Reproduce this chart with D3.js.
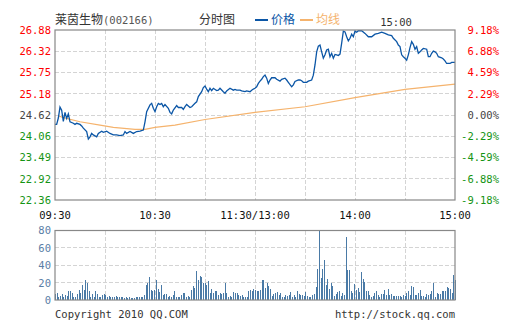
<!DOCTYPE html>
<html>
<head>
<meta charset="utf-8">
<script src="https://cdn.jsdelivr.net/npm/d3@7"></script>
<style>
  body { margin: 0; background: #fff; }
  text { font-family: "DejaVu Sans Mono", monospace; font-size: 10.5px; }
  .grid { stroke: #d4d4d4; stroke-dasharray: 4,2; stroke-width: 1; shape-rendering: crispEdges; }
</style>
</head>
<body>
<div id="container"></div>
<script>
const LEFT = 55, RIGHT = 455;
const TOP = 30, BOTTOM = 200;
const VTOP = 230.5, VBOTTOM = 300;

// [minute since 09:30 (lunch removed), price]
var pricePts = [
  [0,24.37],[1,24.37],[2,24.54],[3,24.83],[4,24.75],[5,24.45],[6,24.69],[7,24.53],[8,24.65],[9,24.44],
  [11,24.40],[12,24.37],[13,24.40],[15,24.37],[16,24.33],[17,24.27],[19,24.18],[20,23.98],[21,24.04],[22,24.13],
  [23,24.09],[25,24.04],[26,24.13],[28,24.19],[29,24.16],[31,24.19],[33,24.13],[35,24.09],[37,24.09],[39,24.07],
  [41,24.09],[42,24.18],[43,24.13],[45,24.18],[47,24.13],[49,24.18],[51,24.19],[53,24.22],[54,24.44],[55,24.71],
  [57,24.89],[58,24.93],[59,24.80],[60,24.71],[61,24.84],[62,24.93],[63,24.90],[64,24.93],[65,24.84],[66,24.90],
  [68,24.80],[69,24.69],[70,24.65],[71,24.75],[73,24.87],[74,24.82],[76,24.82],[77,24.77],[78,24.84],[79,24.90],
  [81,24.82],[82,24.84],[84,24.93],[85,24.97],[86,25.11],[88,25.24],[89,25.35],[90,25.39],[91,25.31],[92,25.24],
  [93,25.33],[94,25.27],[95,25.33],[97,25.27],[98,25.28],[99,25.33],[101,25.24],[102,25.20],[103,25.26],[105,25.33],
  [107,25.28],[108,25.30],[109,25.28],[111,25.28],[112,25.26],[114,25.24],[115,25.26],[117,25.24],[118,25.28],[119,25.31],
  [120,25.33],[121,25.37],[122,25.46],[123,25.52],[124,25.57],[125,25.64],[126,25.68],[127,25.60],[128,25.46],[129,25.55],
  [130,25.61],[132,25.61],[133,25.57],[135,25.52],[136,25.57],[138,25.60],[139,25.55],[140,25.49],[142,25.37],[143,25.42],
  [144,25.51],[146,25.55],[147,25.55],[148,25.53],[149,25.49],[151,25.49],[152,25.52],[154,25.55],[155,25.68],[156,25.95],
  [157,26.30],[158,26.45],[159,26.48],[160,26.30],[161,26.13],[162,26.22],[163,26.35],[164,26.37],[165,26.17],[166,26.26],
  [167,26.13],[168,26.23],[169,26.22],[170,26.20],[171,26.24],[172,26.53],[173,26.85],[174,26.83],[175,26.70],[176,26.59],
  [177,26.66],[178,26.77],[179,26.70],[180,26.85],[181,26.82],[182,26.86],[184,26.86],[186,26.79],[188,26.70],[190,26.70],
  [192,26.77],[194,26.79],[196,26.82],[198,26.79],[200,26.75],[202,26.73],[203,26.66],[205,26.57],[206,26.48],[207,26.44],
  [208,26.22],[209,26.17],[210,26.13],[211,26.08],[212,26.22],[213,26.41],[214,26.57],[215,26.50],[216,26.37],[217,26.44],
  [218,26.26],[219,26.30],[220,26.35],[221,26.39],[223,26.37],[224,26.17],[225,26.17],[226,26.26],[227,26.32],[228,26.30],
  [229,26.26],[230,26.17],[232,26.14],[233,26.11],[234,26.06],[235,25.99],[237,25.99],[238,26.02],[240,26.02]
];

var avgPts = [
  [2,24.60],[5,24.55],[15,24.44],[27,24.35],[35,24.29],[48,24.24],[54,24.24],[60,24.29],
  [72,24.35],[90,24.50],[120,24.69],[150,24.84],[180,25.08],[210,25.30],[240,25.44]
];

// volume per minute, morning then afternoon
var volAM = [
  7,8,4,5,7,4,6,5,10,10, 8,4,4,7,12,8,17,12,23,20,
  10,4,7,4,10,7,4,4,6,7, 6,4,5,4,4,4,5,4,3,3,
  3,2,4,2,3,2,2,2,3,3, 4,4,3,6,17,20,27,12,10,11,
  23,13,9,17,6,7,7,4,5,4, 6,10,4,4,4,6,8,8,4,5,
  4,12,16,14,33,23,28,27,19,20, 17,22,8,13,8,10,10,6,8,7,
  8,20,8,4,5,4,9,8,8,6, 5,6,3,4,4,10,11,10,13,11
];
var volPM = [
  10,10,12,23,23,14,20,16,13,5, 7,8,9,6,8,4,4,6,5,6,
  9,4,6,3,10,7,6,6,5,9, 5,4,4,6,7,15,36,80,25,36,
  46,17,24,13,20,16,5,7,9,10, 5,8,6,73,35,34,10,8,18,12,
  14,9,32,24,21,10,10,6,4,5, 8,10,6,3,7,7,12,6,13,6,
  7,5,5,5,5,5,4,6,5,8, 10,6,16,15,6,6,8,12,5,5,
  4,7,6,7,10,19,4,8,7,7, 10,10,10,15,14,13,8,29,23
];

var priceTicks = [26.88, 26.32, 25.75, 25.18, 24.62, 24.06, 23.49, 22.92, 22.36];
var pctTicks = ["9.18%", "6.88%", "4.59%", "2.29%", "0.00%", "-2.29%", "-4.59%", "-6.88%", "-9.18%"];
var timeTicks = [0, 60, 120, 180, 240];
var timeLabels = ["09:30", "10:30", "11:30/13:00", "14:00", "15:00"];
var gridMinutes = [30, 60, 90, 120, 150, 180, 210];
var volTicks = [0, 20, 40, 60, 80];

var tickColor = function (i) {
    if (i < 4) return "#ff0000";
    if (i === 4) return "#444444";
    return "#149414";
};

var drawChart = function () {
    var svg = d3.select("#container").append("svg")
        .attr("width", 505)
        .attr("height", 330);

    var x = d3.scaleLinear().domain([0, 240]).range([LEFT, RIGHT]);
    var y = d3.scaleLinear().domain([22.36, 26.88]).range([BOTTOM, TOP]);
    var yv = d3.scaleLinear().domain([0, 80]).range([VBOTTOM, VTOP]);

    // header
    var head = svg.append("text").attr("x", LEFT).attr("y", 24);
    head.append("tspan").text("莱茵生物")
        .style("font-family", "'Noto Sans CJK SC', sans-serif").style("font-size", "12px").attr("fill", "#333");
    head.append("tspan").text("(002166)").attr("fill", "#555").style("font-size", "10.5px");
    svg.append("text").attr("x", 199).attr("y", 24).text("分时图")
        .style("font-family", "'Noto Sans CJK SC', sans-serif").style("font-size", "12px").attr("fill", "#333");
    svg.append("line").attr("x1", 255).attr("x2", 268).attr("y1", 20).attr("y2", 20)
        .attr("stroke", "#0b56a6").attr("stroke-width", 2);
    svg.append("text").attr("x", 271).attr("y", 24).text("价格")
        .style("font-family", "'Noto Sans CJK SC', sans-serif").style("font-size", "12px").attr("fill", "#0b56a6");
    svg.append("line").attr("x1", 300).attr("x2", 313).attr("y1", 20).attr("y2", 20)
        .attr("stroke", "#f5b36d").attr("stroke-width", 2);
    svg.append("text").attr("x", 316).attr("y", 24).text("均线")
        .style("font-family", "'Noto Sans CJK SC', sans-serif").style("font-size", "12px").attr("fill", "#f5b36d");
    svg.append("text").attr("x", 396).attr("y", 26).attr("text-anchor", "middle")
        .text(timeLabels[timeLabels.length - 1]).attr("fill", "#333");

    // price grid
    svg.selectAll(".hgrid").data(priceTicks.slice(1, -1)).enter().append("line")
        .attr("class", "grid")
        .attr("x1", LEFT).attr("x2", RIGHT)
        .attr("y1", function (d) { return y(d); }).attr("y2", function (d) { return y(d); });
    svg.selectAll(".vgrid").data(gridMinutes).enter().append("line")
        .attr("class", "grid")
        .attr("x1", function (d) { return x(d); }).attr("x2", function (d) { return x(d); })
        .attr("y1", TOP).attr("y2", BOTTOM);

    // price axes
    svg.selectAll(".ptick").data(priceTicks).enter().append("text")
        .attr("x", 51).attr("y", function (d) { return y(d); }).attr("dy", "0.38em")
        .attr("text-anchor", "end")
        .attr("fill", function (d, i) { return tickColor(i); })
        .text(function (d) { return d.toFixed(2); });
    svg.selectAll(".pctick").data(priceTicks).enter().append("text")
        .attr("x", 499).attr("y", function (d) { return y(d); }).attr("dy", "0.38em")
        .attr("text-anchor", "end")
        .attr("fill", function (d, i) { return tickColor(i); })
        .text(function (d, i) { return pctTicks[i]; });

    // lines
    var line = d3.line()
        .x(function (d) { return x(d[0]); })
        .y(function (d) { return y(d[1]); });
    svg.append("path").datum(avgPts).attr("d", line)
        .attr("fill", "none").attr("stroke", "#f5b36d").attr("stroke-width", 1.2);
    svg.append("path").datum(pricePts).attr("d", line)
        .attr("fill", "none").attr("stroke", "#0b56a6").attr("stroke-width", 1.3);

    svg.append("rect").attr("x", LEFT).attr("y", TOP)
        .attr("width", RIGHT - LEFT).attr("height", BOTTOM - TOP)
        .attr("fill", "none").attr("stroke", "#888").attr("stroke-width", 1.2);

    // time labels
    svg.selectAll(".ttick").data(timeTicks).enter().append("text")
        .attr("x", function (d) { return x(d); }).attr("y", 219)
        .attr("text-anchor", "middle").attr("fill", "#111")
        .text(function (d, i) { return timeLabels[i]; });

    // volume panel
    svg.selectAll(".vhgrid").data(volTicks.slice(1, -1)).enter().append("line")
        .attr("class", "grid")
        .attr("x1", LEFT).attr("x2", RIGHT)
        .attr("y1", function (d) { return yv(d); }).attr("y2", function (d) { return yv(d); });
    svg.selectAll(".vvgrid").data(gridMinutes).enter().append("line")
        .attr("class", "grid")
        .attr("x1", function (d) { return x(d); }).attr("x2", function (d) { return x(d); })
        .attr("y1", VTOP).attr("y2", VBOTTOM);

    var vols = volAM.concat(volPM);
    var step = 240 / (vols.length - 1);
    svg.selectAll(".vbar").data(vols).enter().append("rect")
        .attr("x", function (d, i) { return Math.round(x(i * step)); })
        .attr("width", 1)
        .attr("y", function (d) { return yv(d); })
        .attr("height", function (d) { return VBOTTOM - yv(d); })
        .attr("fill", "#4a7aa6")
        .attr("shape-rendering", "crispEdges");

    svg.selectAll(".vtick").data(volTicks).enter().append("text")
        .attr("x", 51).attr("y", function (d) { return yv(d); }).attr("dy", "0.38em")
        .attr("text-anchor", "end").attr("fill", "#5a7ea6")
        .text(function (d) { return d; });

    svg.append("rect").attr("x", LEFT).attr("y", VTOP)
        .attr("width", RIGHT - LEFT).attr("height", VBOTTOM - VTOP)
        .attr("fill", "none").attr("stroke", "#888").attr("stroke-width", 1.2);

    svg.append("text").attr("x", LEFT).attr("y", 318).attr("fill", "#333")
        .text("Copyright 2010 QQ.COM");
    svg.append("text").attr("x", RIGHT).attr("y", 318).attr("text-anchor", "end").attr("fill", "#333")
        .text("http://stock.qq.com");
};

window.onload = drawChart;
</script>
</body>
</html>
